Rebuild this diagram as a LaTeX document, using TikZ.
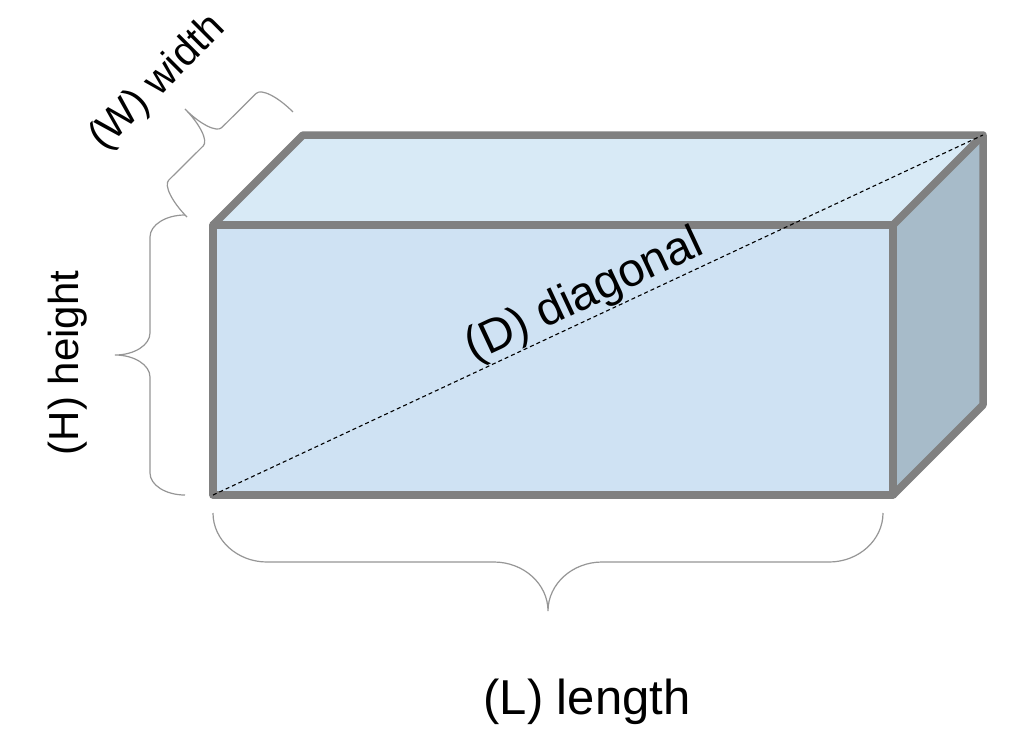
\documentclass[tikz,border=0pt]{standalone}
\usepackage{fontspec}
\setmainfont{Liberation Sans}
\usetikzlibrary{calc}
\definecolor{frontc}{RGB}{207,226,243}
\definecolor{topc}{RGB}{216,234,246}
\definecolor{rightc}{RGB}{167,187,201}
\definecolor{edgec}{RGB}{128,128,128}
\definecolor{bracec}{RGB}{150,150,150}
\tikzset{
  edge/.style={draw=edgec, line width=7.5pt, line join=round},
  bracestyle/.style={draw=bracec, line width=1.2pt},
  diag/.style={draw=black, line width=1.1pt, dash pattern=on 4pt off 3pt},
  lbl/.style={text=black, inner sep=0pt},
}
% #1 origin, #2 unit along, #3 unit outward, #4 length, #5 depth, #6 curl
\newcommand\mybrace[6]{%
\begin{scope}[shift={#1}, x={#2}, y={#3}]
\draw[bracestyle] (0,0) .. controls (0,{0.275*#5}) and ({0.45*#6},{#5/2}) .. (#6,{#5/2})
 -- ({#4/2-#6},{#5/2}) .. controls ({#4/2-0.45*#6},{#5/2}) and ({#4/2},{0.725*#5}) .. ({#4/2},#5)
 .. controls ({#4/2},{0.725*#5}) and ({#4/2+0.45*#6},{#5/2}) .. ({#4/2+#6},{#5/2})
 -- ({#4-#6},{#5/2}) .. controls ({#4-0.45*#6},{#5/2}) and (#4,{0.275*#5}) .. (#4,0);
\end{scope}}
\begin{document}
\begin{tikzpicture}[x=1pt,y=-1pt]
\fill[white] (0,0) rectangle (1019,748);
\useasboundingbox (0,0) rectangle (1019,748);
% box corners
\coordinate (ftl) at (213,225);
\coordinate (ftr) at (893,225);
\coordinate (fbl) at (213,495);
\coordinate (fbr) at (893,495);
\coordinate (btl) at (303,135);
\coordinate (btr) at (983,135);
\coordinate (bbr) at (983,405);
% faces
\fill[topc] (ftl) -- (btl) -- (btr) -- (ftr) -- cycle;
\fill[rightc] (ftr) -- (btr) -- (bbr) -- (fbr) -- cycle;
\fill[frontc] (ftl) rectangle (fbr);
% edges
\draw[edge] (ftl) -- (btl) -- (btr) -- (ftr);
\draw[edge] (btr) -- (bbr) -- (fbr);
\draw[edge] (ftl) rectangle (fbr);
% diagonal
\draw[diag] (fbl) -- (btr) node[lbl, pos=0.495, sloped, above, font=\fontsize{47}{56}\selectfont] (dlab) {(D) diagonal};
% braces
\mybrace{(213,513)}{(1pt,0pt)}{(0pt,-1pt)}{670}{98}{54}
\mybrace{(185,495)}{(0pt,1pt)}{(-1pt,0pt)}{280}{70}{22}
\mybrace{(187,217)}{(0.711pt,0.705pt)}{(-0.705pt,0.711pt)}{149}{78}{13}
% labels
\node[lbl, font=\fontsize{49}{58}\selectfont] (llab) at (587,702) {(L) length};
\node[lbl, rotate=90, font=\fontsize{42}{50}\selectfont] (hlab) at (68,363) {(H) height};
\node[lbl, rotate=45, font=\fontsize{41}{48}\selectfont] (wlab) at (158,83) {(W) width};
\end{tikzpicture}
\end{document}
